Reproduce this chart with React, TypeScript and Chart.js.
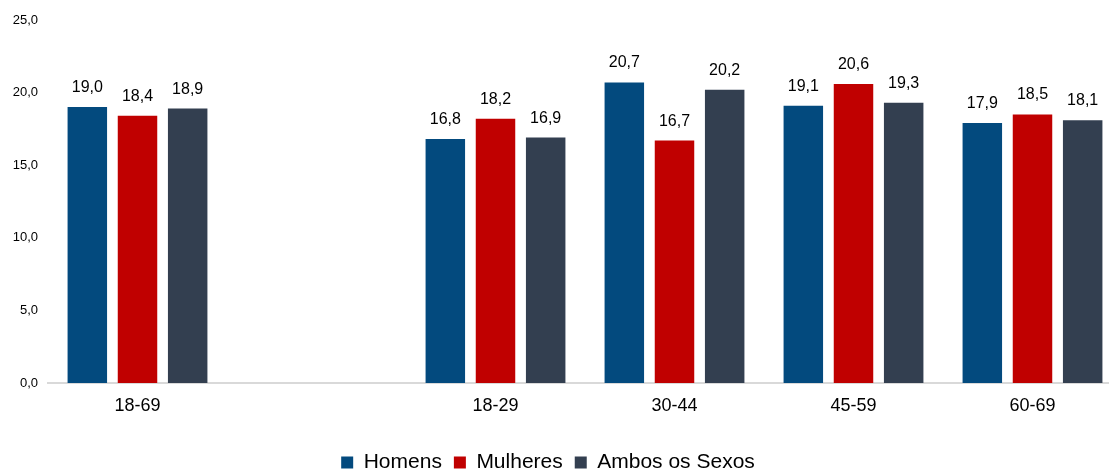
import React, { useEffect, useRef } from "react";
import { Chart, registerables } from "chart.js";

Chart.register(...registerables);

const categories = ["18-69", "", "18-29", "30-44", "45-59", "60-69"];
const homens = [19.0, null, 16.8, 20.7, 19.1, 17.9];
const mulheres = [18.4, null, 18.2, 16.7, 20.6, 18.5];
const ambos = [18.9, null, 16.9, 20.2, 19.3, 18.1];
const seriesNames = ["Homens", "Mulheres", "Ambos os Sexos"];
const seriesColors = ["#034A7E", "#C00000", "#333F50"];
const yMin = 0;
const yMax = 25;
const yStep = 5;

const FONT = '"Liberation Sans", Arial, sans-serif';
const fmt = (v: number) => v.toFixed(1).replace(".", ",");

const valueLabels = {
  id: "valueLabels",
  afterDatasetsDraw(chart: any) {
    const ctx = chart.ctx;
    ctx.save();
    ctx.font = `16px ${FONT}`;
    ctx.fillStyle = "#000";
    ctx.textAlign = "center";
    ctx.textBaseline = "alphabetic";
    chart.data.datasets.forEach((ds: any, i: number) => {
      const meta = chart.getDatasetMeta(i);
      meta.data.forEach((el: any, j: number) => {
        const v = ds.data[j];
        if (v == null) return;
        ctx.fillText(fmt(v), el.x, el.y - 15);
      });
    });
    ctx.restore();
  },
};

export default function App() {
  const ref = useRef<HTMLCanvasElement | null>(null);

  useEffect(() => {
    if (!ref.current) return;
    const allSeries = [homens, mulheres, ambos];
    const chart = new Chart(ref.current, {
      type: "bar",
      data: {
        labels: categories,
        datasets: allSeries.map((d, i) => ({
          label: seriesNames[i],
          data: d,
          backgroundColor: seriesColors[i],
          borderWidth: 0,
          categoryPercentage: 0.841,
          barPercentage: 0.787,
        })),
      },
      options: {
        responsive: false,
        animation: false,
        layout: { padding: { top: 20, left: 0, right: 0, bottom: 0 } },
        plugins: {
          tooltip: { enabled: false },
          legend: {
            position: "bottom",
            labels: {
              boxWidth: 12,
              boxHeight: 12,
              padding: 12,
              color: "#000",
              font: { family: FONT, size: 21 },
            },
          },
        },
        scales: {
          x: {
            grid: { display: false, drawTicks: false },
            border: { display: true, color: "#D9D9D9", width: 2 },
            ticks: {
              color: "#000",
              font: { family: FONT, size: 18 },
              padding: 12,
              maxRotation: 0,
              autoSkip: false,
            },
            afterFit: (s: any) => {
              s.height = 57;
            },
          },
          y: {
            min: yMin,
            max: yMax,
            grid: { display: false, drawTicks: false },
            border: { display: false },
            ticks: {
              stepSize: yStep,
              color: "#000",
              font: { family: FONT, size: 13 },
              padding: 10,
              callback: (v: any) => fmt(Number(v)),
            },
            afterFit: (s: any) => {
              s.width = 74;
            },
          },
        },
      },
      plugins: [valueLabels],
    });
    return () => chart.destroy();
  }, []);

  return (
    <div
      style={{
        position: "fixed",
        left: 0,
        top: 0,
        width: 1109,
        height: 471,
        overflow: "hidden",
        background: "#fff",
      }}
    >
      <div style={{ position: "absolute", left: -26, top: 0, width: 1148, height: 483 }}>
        <canvas ref={ref} width={1148} height={483} style={{ display: "block" }} />
      </div>
    </div>
  );
}
